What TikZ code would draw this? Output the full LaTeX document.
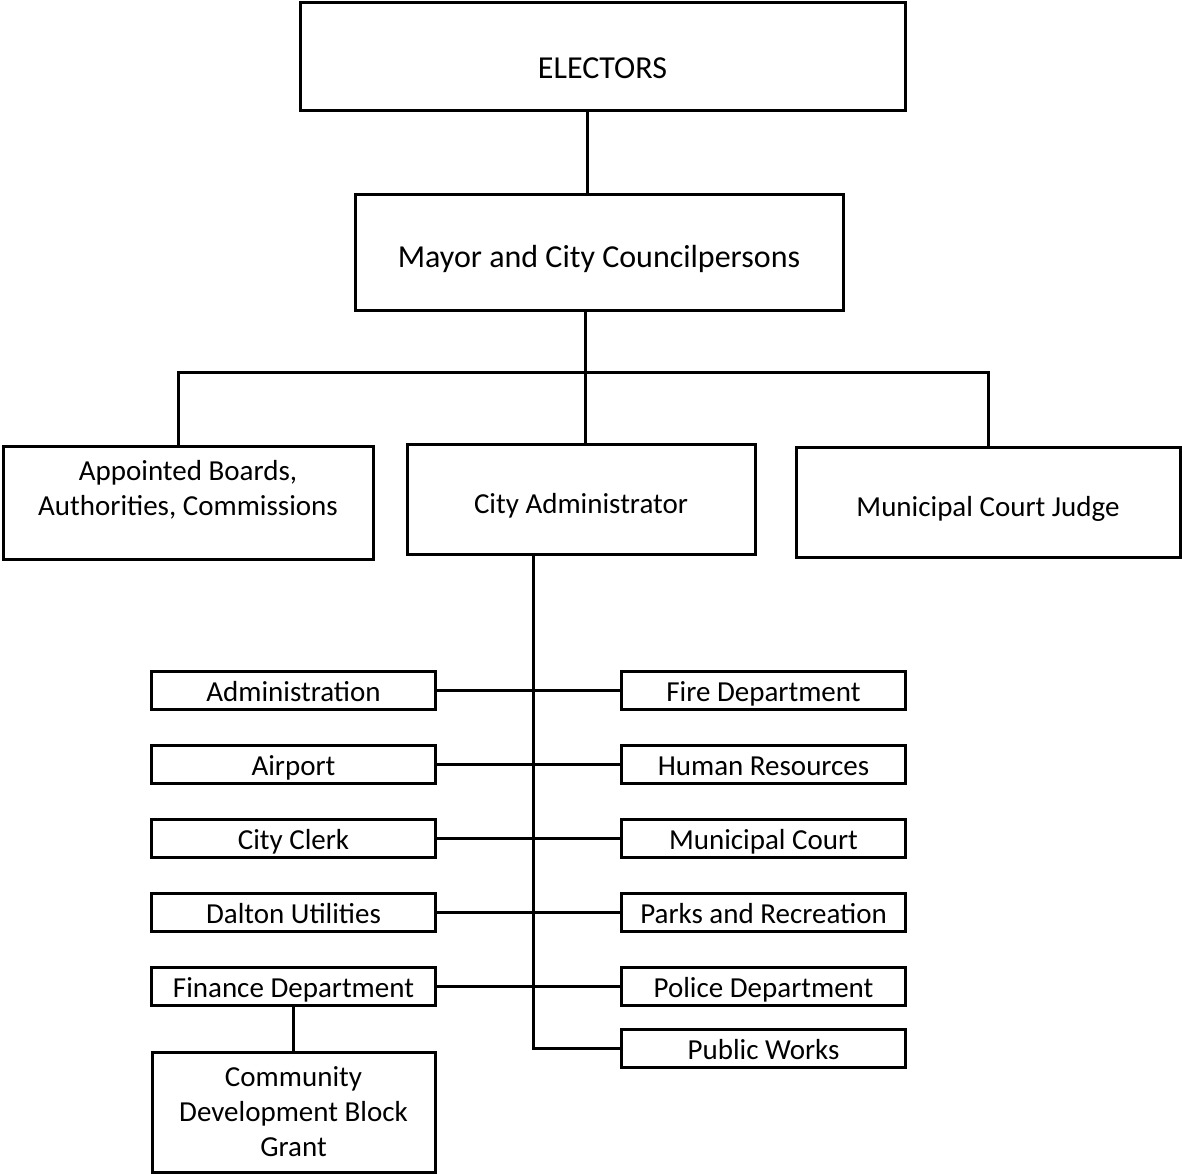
\documentclass[tikz,border=0pt]{standalone}
\usepackage{fontspec}
\setmainfont{Carlito}
\usetikzlibrary{positioning}

\begin{document}
\begin{tikzpicture}[x=0.5pt,y=-0.5pt,line width=1.5pt,node distance=18pt and 93pt]

\tikzset{
headbox/.style={
    draw,
    inner sep=2pt,
    outer sep=0pt,
    align=center,
    font=\fontsize{16}{19}\selectfont
},
officebox/.style={
    draw,
    inner sep=2pt,
    outer sep=0pt,
    align=center,
    minimum height=55pt,
    font=\fontsize{14.5}{17.5}\selectfont
},
officetext/.style={
    text height=17pt,
    text depth=2.3pt
},
deptbox/.style={
    draw,
    inner sep=0pt,
    outer sep=0pt,
    minimum width=142pt,
    minimum height=19pt,
    text height=15pt,
    text depth=3.5pt,
    font=\fontsize{14.5}{17.5}\selectfont
},
grantbox/.style={
    draw,
    inner sep=0pt,
    outer sep=0pt,
    align=center,
    minimum width=141.5pt,
    minimum height=60pt,
    font=\fontsize{14.5}{17.5}\selectfont
},
link/.style={line width=1.5pt}
}

\useasboundingbox (0,0) rectangle (1182,1173);

% top of the chart
\node[headbox,minimum width=302.5pt,minimum height=54pt,text height=22pt,text depth=0pt] (electors) at (602.5,56) {ELECTORS};
\node[headbox,minimum width=244pt,minimum height=58pt,text height=17pt,text depth=2pt] (mayor) at (599,252) {Mayor and City Councilpersons};

\node[officebox,minimum width=185pt,minimum height=56.5pt] (boards) at (188,502.5) {Appointed Boards,\\Authorities, Commissions\\[-3pt]\mbox{}};
\node[officebox,officetext,minimum width=174pt] (admin) at (581,499) {City Administrator};
\node[officebox,officetext,minimum width=192pt] (judge) at (988,502) {Municipal Court Judge};

% departments
\node[deptbox] (administration) at (293.5,690) {Administration};
\node[deptbox,below=of administration] (airport) {Airport};
\node[deptbox,below=of airport] (clerk) {City Clerk};
\node[deptbox,below=of clerk] (utilities) {Dalton Utilities};
\node[deptbox,below=of utilities] (finance) {Finance Department};
\node[grantbox,below=23.5pt of finance] (cdbg) {Community\\Development Block\\Grant};

\node[deptbox,right=of administration] (fire) {Fire Department};
\node[deptbox,right=of airport] (hr) {Human Resources};
\node[deptbox,right=of clerk] (court) {Municipal Court};
\node[deptbox,right=of utilities] (parks) {Parks and Recreation};
\node[deptbox,right=of finance] (police) {Police Department};
\node[deptbox,below=12pt of police] (works) {Public Works};

% connectors
\coordinate (vote) at (587,0);
\coordinate (bar) at (585,372);

\draw[link] (electors.south -| vote) -- (mayor.north -| vote);
\draw[link] (mayor.south -| bar) -- (admin.north -| bar);
\draw[link] ([xshift=-5pt]boards.north) |- (bar) -| (judge.north);
\draw[link] ([xshift=-24pt]admin.south) |- (works.west);

\draw[link] (administration.east) -- (fire.west);
\draw[link] (airport.east) -- (hr.west);
\draw[link] (clerk.east) -- (court.west);
\draw[link] (utilities.east) -- (parks.west);
\draw[link] (finance.east) -- (police.west);
\draw[link] (finance) -- (cdbg);

\end{tikzpicture}
\end{document}
